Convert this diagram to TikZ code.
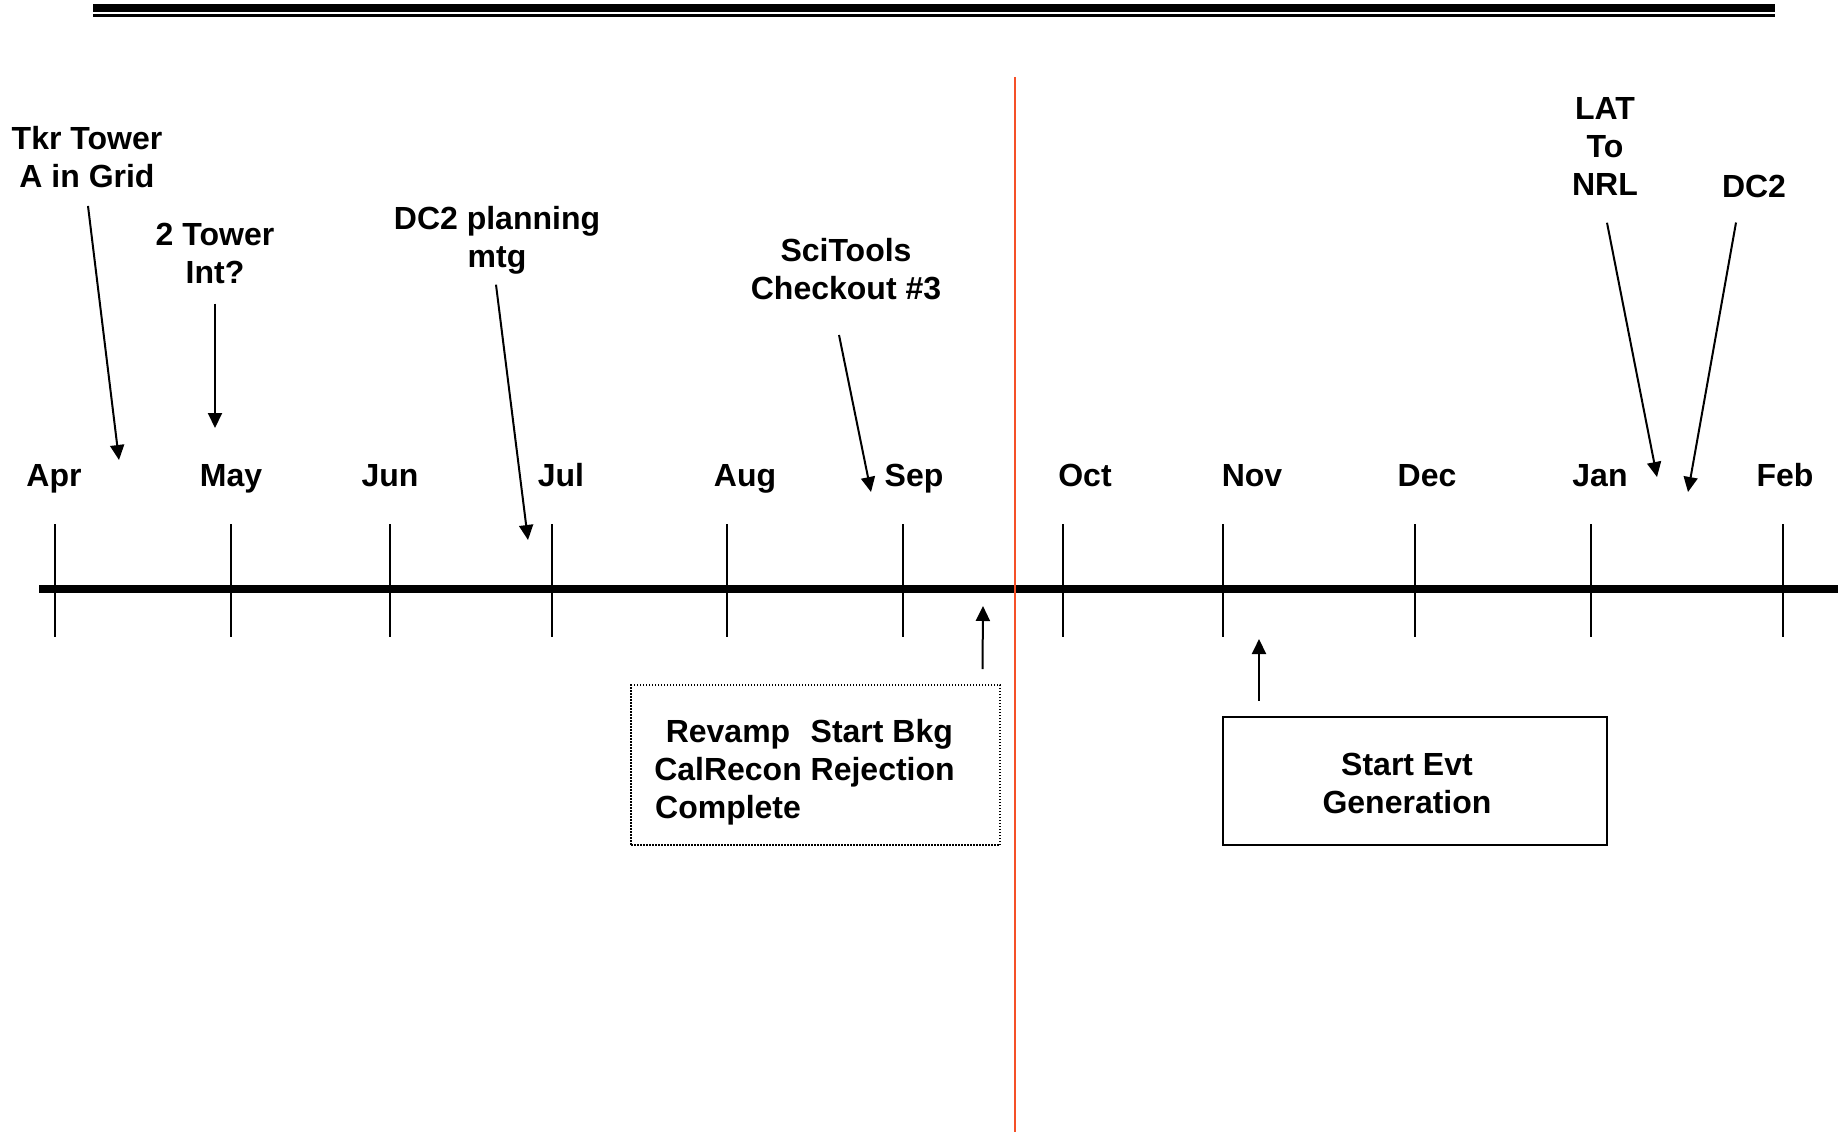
\documentclass[tikz,border=0pt]{standalone}
\usepackage{fontspec}
\setmainfont{Liberation Sans}
\usetikzlibrary{arrows.meta,positioning}
\definecolor{nowred}{RGB}{245,80,40}

\begin{document}
\begin{tikzpicture}[x=1pt,y=-1pt,
    every node/.style={font=\fontsize{32}{38}\selectfont\bfseries,inner sep=0pt},
    month/.style={anchor=base},
    event/.style={align=center},
    pin/.style={line width=2pt,-{Triangle[length=15pt,width=14pt]}},
    monthtick/.style={line width=2pt},
    planbox/.style={draw,line width=1.5pt,dash pattern=on 1.5pt off 1.5pt,minimum width=369pt,minimum height=160pt,outer sep=0pt},
    evtbox/.style={draw,line width=2pt,minimum width=384pt,minimum height=128pt,outer sep=0pt}]
  \useasboundingbox (0,0) rectangle (1838,1134);

  % header rule
  \draw[line width=8pt] (93,8) -- (1775,8);
  \draw[line width=3pt] (93,15.5) -- (1775,15.5);

  % time axis
  \draw[line width=8pt] (39,589) -- (1838,589);
  \foreach \x in {55,231,390,552,727,903,1063,1223,1415,1591,1783}
    \draw[monthtick] (\x,524) -- (\x,637);
  \foreach \m/\x in {Apr/54,May/231,Jun/390,Jul/561,Aug/745,Sep/914,Oct/1085,Nov/1252,Dec/1427,Jan/1600,Feb/1785}
    \node[month] (\m) at (\x,486) {\m};

  % today
  \draw[nowred,line width=2pt] (1015,77) -- (1015,1132);

  % milestones above
  \node[event] (tkr)      at (87,157.5)   {Tkr Tower\\A in Grid};
  \node[event] (twotower) at (215,253.5)  {2 Tower\\Int?};
  \node[event] (dcplan)   at (497,240)    {DC2 planning\\mtg};
  \node[event] (scitools) at (846,269.5)  {SciTools\\Checkout \#3};
  \node[event] (lat)      at (1605,146)   {LAT\\To\\NRL};
  \node[event] (dctwo)    at (1754,186.5) {DC2};

  \coordinate (tkrtip)      at (119,460);
  \coordinate (twotowertip) at (215,428);
  \coordinate (dcplantip)   at (528,540);
  \coordinate (scitoolstip) at (871,492);
  \coordinate (lattip)      at (1657,477);
  \coordinate (dctwotip)    at (1688,492);

  % boxes below
  \node[planbox] (rev) at (815.5,765) {};
  \node (revtext) at ([xshift=-11pt,yshift=-8pt]rev.center)
    {\begin{tabular}{@{}c@{\ }l@{}}Revamp & Start Bkg\\CalRecon & Rejection\\Complete\end{tabular}};
  \node[evtbox] (evt) at (1415,780.5) {};
  \node[event] (evttext) at ([xshift=-8pt,yshift=-3pt]evt.center) {Start Evt\\Generation};

  \coordinate (revtip) at (983,606);
  \coordinate (evttip) at (1259,639);

  \path[pin]
    ([xshift=1pt,yshift=-17.5pt]tkr.south)      edge (tkrtip)
    ([yshift=-19.5pt]twotower.south)            edge (twotowertip)
    ([xshift=-1pt,yshift=-10.5pt]dcplan.south)  edge (dcplantip)
    ([xshift=-7pt,yshift=-34.5pt]scitools.south) edge (scitoolstip)
    ([xshift=2pt,yshift=-27.5pt]lat.south)      edge (lattip)
    ([xshift=-18pt,yshift=-24.5pt]dctwo.south)  edge (dctwotip)
    ([xshift=-17.5pt,yshift=16pt]rev.north east) edge (revtip)
    ([xshift=36pt,yshift=16pt]evt.north west)  edge (evttip);
\end{tikzpicture}
\end{document}
